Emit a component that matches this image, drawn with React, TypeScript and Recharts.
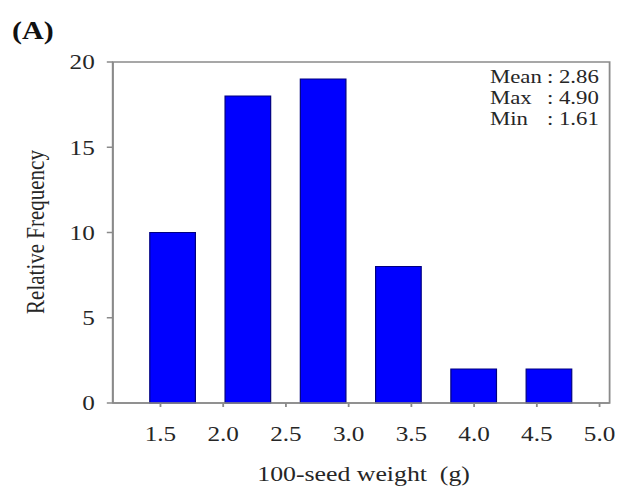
import { BarChart, Bar, XAxis, YAxis, ReferenceArea } from 'recharts'

// bins (centre of each 0.6 g class) and counts
const binCenters = [1.6, 2.2, 2.8, 3.4, 4.0, 4.6]
const frequencies = [10, 18, 19, 8, 2, 2]
const xTicks = [1.5, 2.0, 2.5, 3.0, 3.5, 4.0, 4.5, 5.0]
const yTicks = [0, 5, 10, 15, 20]
const statNames = ['Mean', 'Max', 'Min']
const statValues = ['2.86', '4.90', '1.61']

// the source figure is stretched horizontally, so draw narrower and scale x
const STRETCH = 1.2
const W = 517
const H = 486
const FONT = '"Liberation Serif", "Times New Roman", serif'
const GRAY = '#8a8a8a'
const INK = '#262626'

export default function App() {
  const chartData = binCenters.map((x, i) => ({ x, freq: frequencies[i] }))

  return (
    <div
      style={{
        position: 'absolute',
        left: 0,
        top: 0,
        width: W,
        height: H,
        transform: `scaleX(${STRETCH})`,
        transformOrigin: '0 0',
        background: '#fff'
      }}
    >
      <BarChart
        width={W}
        height={H}
        data={chartData}
        margin={{ top: 62, right: 9, left: 0, bottom: 0 }}
      >
        <XAxis
          dataKey="x"
          type="number"
          domain={[1.12, 5.08]}
          ticks={xTicks}
          allowDataOverflow
          height={83}
          tickFormatter={(v: number) => v.toFixed(1)}
          stroke={GRAY}
          strokeWidth={1.5}
          tickSize={4}
          tickMargin={19}
          tick={{ fill: INK, fontSize: 21, fontFamily: FONT }}
        />
        <YAxis
          type="number"
          domain={[0, 20]}
          ticks={yTicks}
          width={94}
          stroke={GRAY}
          strokeWidth={1.5}
          tickSize={5}
          tickMargin={10}
          tick={{ fill: INK, fontSize: 21, fontFamily: FONT }}
        />
        <ReferenceArea
          x1={1.12}
          x2={5.08}
          y1={0}
          y2={20}
          fill="none"
          fillOpacity={0}
          stroke={GRAY}
          strokeWidth={1.5}
        />
        <Bar
          dataKey="freq"
          fill="#0000ff"
          stroke="#000080"
          strokeWidth={1}
          barSize={38}
          isAnimationActive={false}
        />
      </BarChart>

      {/* titles and the stats box */}
      <svg
        width={W}
        height={H}
        style={{ position: 'absolute', left: 0, top: 0, pointerEvents: 'none' }}
        fontFamily={FONT}
      >
        <text x={10} y={39} fontSize={25} fontWeight="bold" fill="#111">
          (A)
        </text>
        <text
          x={37}
          y={232}
          fontSize={21}
          fill={INK}
          textAnchor="middle"
          transform="rotate(-90 37 232)"
        >
          Relative Frequency
        </text>
        <text
          x={303}
          y={481}
          fontSize={21.5}
          fill={INK}
          textAnchor="middle"
          style={{ whiteSpace: 'pre' }}
        >
          {'100-seed weight  (g)'}
        </text>
        {statNames.map((name, i) => (
          <g key={name}>
            <text x={408.3} y={83 + i * 21} fontSize={19} fill={INK}>
              {name}
            </text>
            <text x={499} y={83 + i * 21} fontSize={19} fill={INK} textAnchor="end">
              {`: ${statValues[i]}`}
            </text>
          </g>
        ))}
      </svg>
    </div>
  )
}
